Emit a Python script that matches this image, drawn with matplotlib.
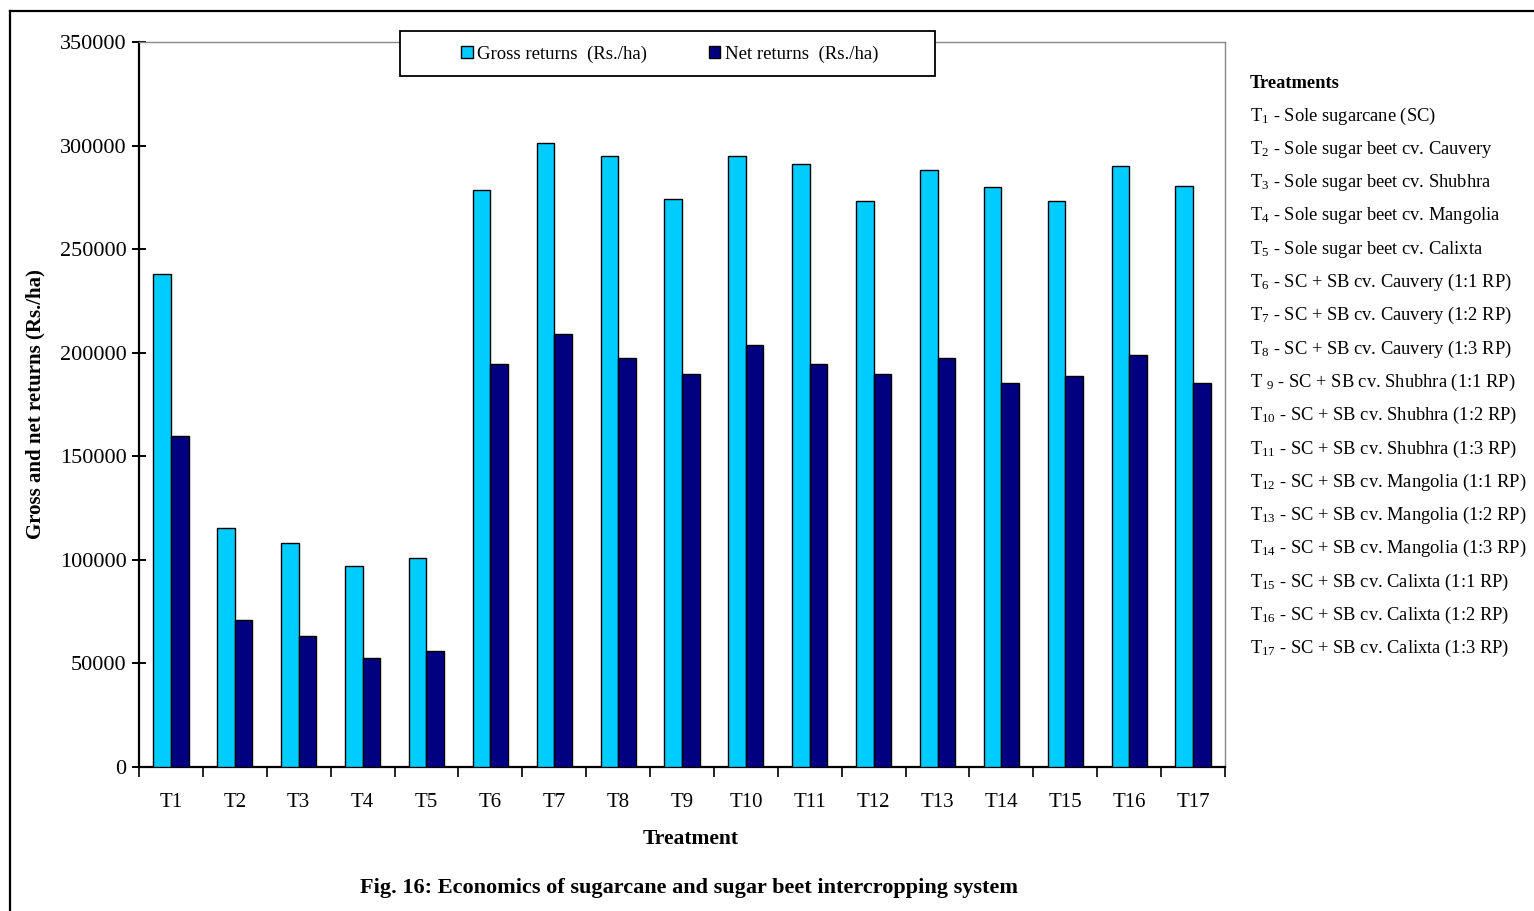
import matplotlib
matplotlib.use("Agg")
import matplotlib.pyplot as plt
from matplotlib.lines import Line2D
from matplotlib.patches import Rectangle
import numpy as np

plt.rcParams["font.family"] = ["Liberation Serif", "DejaVu Serif"]
plt.rcParams["mathtext.fontset"] = "custom"
plt.rcParams["mathtext.rm"] = "Liberation Serif"
plt.rcParams["mathtext.it"] = "Liberation Serif:italic"
plt.rcParams["mathtext.bf"] = "Liberation Serif:bold"

# %% data
treatments = ["T1", "T2", "T3", "T4", "T5", "T6", "T7", "T8", "T9", "T10",
              "T11", "T12", "T13", "T14", "T15", "T16", "T17"]
gross = [238000, 115400, 108100, 97000, 100900, 278500, 301000, 294900, 274000,
         294900, 291000, 273200, 288000, 280000, 273200, 290200, 280500]
net = [159600, 70900, 63200, 52400, 56000, 194500, 209000, 197400, 189700,
       203700, 194500, 189700, 197600, 185300, 188800, 199000, 185300]
series_labels = ["Gross returns  (Rs./ha)", "Net returns  (Rs./ha)"]
key_lines = [
    "T$_{1}$ - Sole sugarcane (SC)",
    "T$_{2}$ - Sole sugar beet cv. Cauvery",
    "T$_{3}$ - Sole sugar beet cv. Shubhra",
    "T$_{4}$ - Sole sugar beet cv. Mangolia",
    "T$_{5}$ - Sole sugar beet cv. Calixta",
    "T$_{6}$ - SC + SB cv. Cauvery (1:1 RP)",
    "T$_{7}$ - SC + SB cv. Cauvery (1:2 RP)",
    "T$_{8}$ - SC + SB cv. Cauvery (1:3 RP)",
    "T $_{9}$ - SC + SB cv. Shubhra (1:1 RP)",
    "T$_{10}$ - SC + SB cv. Shubhra (1:2 RP)",
    "T$_{11}$ - SC + SB cv. Shubhra (1:3 RP)",
    "T$_{12}$ - SC + SB cv. Mangolia (1:1 RP)",
    "T$_{13}$ - SC + SB cv. Mangolia (1:2 RP)",
    "T$_{14}$ - SC + SB cv. Mangolia (1:3 RP)",
    "T$_{15}$ - SC + SB cv. Calixta (1:1 RP)",
    "T$_{16}$ - SC + SB cv. Calixta (1:2 RP)",
    "T$_{17}$ - SC + SB cv. Calixta (1:3 RP)",
]

# %% plot
W, H = 1534, 911
fig = plt.figure(figsize=(W / 100, H / 100), dpi=100)
ax = fig.add_axes([139 / W, 1 - 767 / H, (1225 - 139) / W, (767 - 42) / H])

x = np.arange(len(treatments))
bw = 0.275
ax.bar(x - bw / 2, gross, bw, color="#00CCFF", edgecolor="black", linewidth=1.0,
       label=series_labels[0], zorder=3)
ax.bar(x + bw / 2, net, bw, color="#000080", edgecolor="black", linewidth=1.0,
       label=series_labels[1], zorder=3)

ax.set_xlim(-0.5, len(treatments) - 0.5)
ax.set_ylim(0, 350000)
ax.set_yticks(np.arange(0, 350001, 50000))
ax.set_xticks(x)
ax.set_xticklabels(treatments)
ax.set_xticks(np.arange(-0.5, len(treatments), 1.0), minor=True)
ax.tick_params(axis="x", which="major", length=0, pad=19, labelsize=15)
ax.tick_params(axis="x", which="minor", direction="out", length=7, width=1.2)
ax.tick_params(axis="y", direction="inout", length=10, width=1.4, labelsize=16, pad=4)

for s in ["top", "right"]:
    ax.spines[s].set_color("#888888")
    ax.spines[s].set_linewidth(1.0)
ax.spines["left"].set_linewidth(1.6)
ax.spines["bottom"].set_linewidth(1.6)

ax.set_xlabel("Treatment", fontsize=15.5, fontweight="bold", labelpad=8)
ax.xaxis.set_label_coords(0.5075, -0.085)
ax.set_ylabel("Gross and net returns (Rs./ha)", fontsize=15, fontweight="bold",
              labelpad=10)

# legend box drawn separately so its padding matches the original
fig.add_artist(Rectangle((400 / W, 1 - 76 / H), 535 / W, 45 / H,
                         transform=fig.transFigure, facecolor="white",
                         edgecolor="black", linewidth=1.3, zorder=4))
handles, labels = ax.get_legend_handles_labels()
leg = fig.legend(handles, labels, loc="center", bbox_to_anchor=(670 / W, 1 - 54 / H),
                 ncol=2, fontsize=13.5, frameon=False,
                 handlelength=0.6, handleheight=0.6, handletextpad=0.25,
                 columnspacing=3.3, borderpad=0.2)
leg.set_zorder(5)

# treatment key on the right
fig.text(1250 / W, 1 - 83 / H, "Treatments", fontsize=13.3, fontweight="bold",
         va="center", ha="left")
for i, line in enumerate(key_lines):
    fig.text(1250 / W, 1 - (116 + i * 33.3) / H, line, fontsize=13.3,
             va="center", ha="left")

fig.text(689 / W, 1 - 888 / H, "Fig. 16: Economics of sugarcane and sugar beet intercropping system",
         fontsize=16, fontweight="bold", ha="center", va="center")

# outer frame (top and left visible)
fig.add_artist(Line2D([10 / W, 10 / W], [0, 1 - 11 / H], color="black", linewidth=1.6))
fig.add_artist(Line2D([10 / W, 1], [1 - 11 / H, 1 - 11 / H], color="black", linewidth=1.6))

fig.savefig("out.png", dpi=100)
